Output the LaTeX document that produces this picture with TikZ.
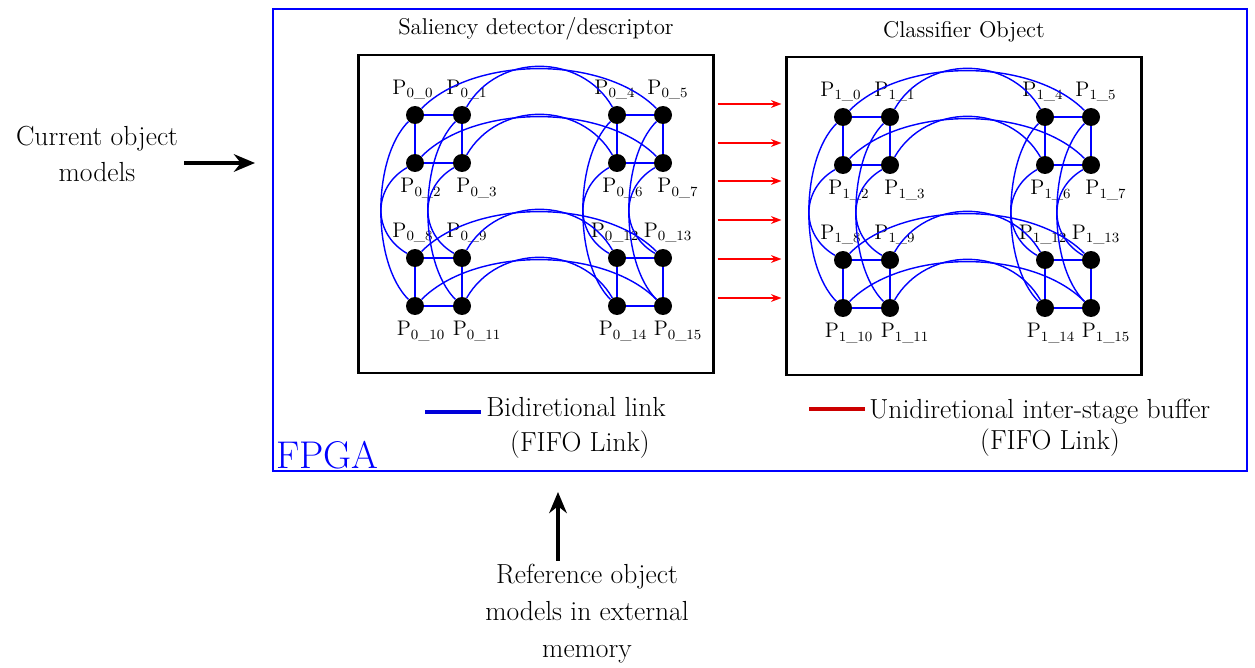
\documentclass[tikz,border=0pt]{standalone}
\usepackage{fontspec}
\usetikzlibrary{arrows.meta,positioning}

\begin{document}
\begin{tikzpicture}[x=0.02cm,y=0.02cm,
    every node/.style={font=\fontsize{15.7}{21}\selectfont},
    every label/.style={font=\fontsize{12}{14}\selectfont},
    pnode/.style={circle,fill=black,minimum size=0.36cm,inner sep=0pt,label distance=-1.5pt},
    procbox/.style={draw=black,line width=1.2pt,minimum width=7.1cm,minimum height=6.36cm,inner sep=0pt},
    sqlink/.style={blue,line width=1.2pt},
    arclink/.style={blue,line width=0.8pt},
    fifo/.style={red,line width=0.75pt,-{Stealth[length=6pt,width=4.5pt]}},
    bigarrow/.style={black,line width=2pt,-{Stealth[length=12pt,width=10pt]}}]
  \useasboundingbox (0,0) rectangle (1255,667);

  % FPGA frame
  \node[draw=blue,line width=0.9pt,minimum width=19.48cm,minimum height=9.24cm,inner sep=0pt] (fpga) at (760,427) {};
  \node[anchor=base west,text=blue,font=\fontsize{22}{24}\selectfont,inner sep=0pt] (fpgalabel) at (276,199) {FPGA};

  % Processor arrays of both stages
  \foreach \stage/\dx/\dy/\boxname in {0/0/0/sal,1/428/-2/cls}{
    \node[procbox] (\boxname) at (536+\dx,453+\dy) {};
    % processing elements (label side and shift)
    \foreach \n/\x/\y/\lpos/\lx in {0/415/552/above/-2,1/462/552/above/5,2/415/504/below/6,3/462/504/below/15,
        4/617/552/above/-2,5/663/552/above/5,6/617/504/below/6,7/663/504/below/15,
        8/415/409/above/-2,9/462/409/above/5,10/415/361/below/6,11/462/361/below/15,
        12/617/409/above/-2,13/663/409/above/5,14/617/361/below/6,15/663/361/below/15}
      \node[pnode,label={[xshift=\lx*0.02cm]\lpos:P\textsubscript{\stage\_\n}}] (p\stage-\n) at (\x+\dx,\y+\dy) {};
    % links inside each 2x2 cluster
    \foreach \i/\j in {0/1,0/2,1/3,2/3,4/5,4/6,5/7,6/7,8/9,8/10,9/11,10/11,12/13,12/14,13/15,14/15}
      \draw[sqlink] (p\stage-\i) -- (p\stage-\j);
    % wrap-around links, rows
    \foreach \i/\j in {0/5,2/7,8/13,10/15}
      \draw[arclink] (p\stage-\i) to[out=45,in=135,distance=1.5cm] (p\stage-\j);
    \foreach \i/\j in {1/4,3/6,9/12,11/14}
      \draw[arclink] (p\stage-\i) to[out=60,in=120,distance=1.25cm] (p\stage-\j);
    % wrap-around links, columns
    \foreach \i/\j in {0/10,1/11,4/14,5/15}
      \draw[arclink] (p\stage-\i) to[out=225,in=135,distance=1.04cm] (p\stage-\j);
    \foreach \i/\j in {2/8,3/9,6/12,7/13}
      \draw[arclink] (p\stage-\i) to[out=210,in=150,distance=0.8cm] (p\stage-\j);
  }

  % Stage titles
  \node[above=0.15cm of sal,font=\fontsize{13}{15}\selectfont] (saltitle) {Saliency detector/descriptor};
  \node[above=0.15cm of cls,font=\fontsize{13}{15}\selectfont] (clstitle) {Classifier Object};

  % Inter-stage buffers
  \foreach \y in {563,524,486,447,408,369}
    \draw[fifo] ([xshift=0.06cm]sal.east |- 0,\y) -- ([xshift=-0.08cm]cls.west |- 0,\y);

  % Legend
  \node[anchor=base west,inner sep=0pt] (bidir) at (486,251) {Bidiretional link};
  \node (bidirfifo) at (580,222) {(FIFO Link)};
  \coordinate (bidirkey) at (425,255);
  \draw[blue!85!black,line width=2pt] (bidirkey) -- ([xshift=-0.1cm]bidir.west |- bidirkey);
  \node[anchor=base west,inner sep=0pt] (unidir) at (869,249) {Unidiretional inter-stage buffer};
  \node (unidirfifo) at (1050,224) {(FIFO Link)};
  \coordinate (unidirkey) at (809,258);
  \draw[red!80!black,line width=2pt] (unidirkey) -- ([xshift=-0.08cm]unidir.west |- unidirkey);

  % Inputs
  \node[align=center] (curobj) at (97,513) {Current object\\models};
  \coordinate (curtip) at (255,504);
  \draw[bigarrow] (curobj.east |- curtip) -- (curtip);
  \node[align=center,inner sep=2pt] (refmem) at (587,53) {Reference object\\models in external\\memory};
  \coordinate (refhead) at (558,175);
  \draw[bigarrow] (refmem.north -| refhead) -- (refhead);
\end{tikzpicture}
\end{document}
